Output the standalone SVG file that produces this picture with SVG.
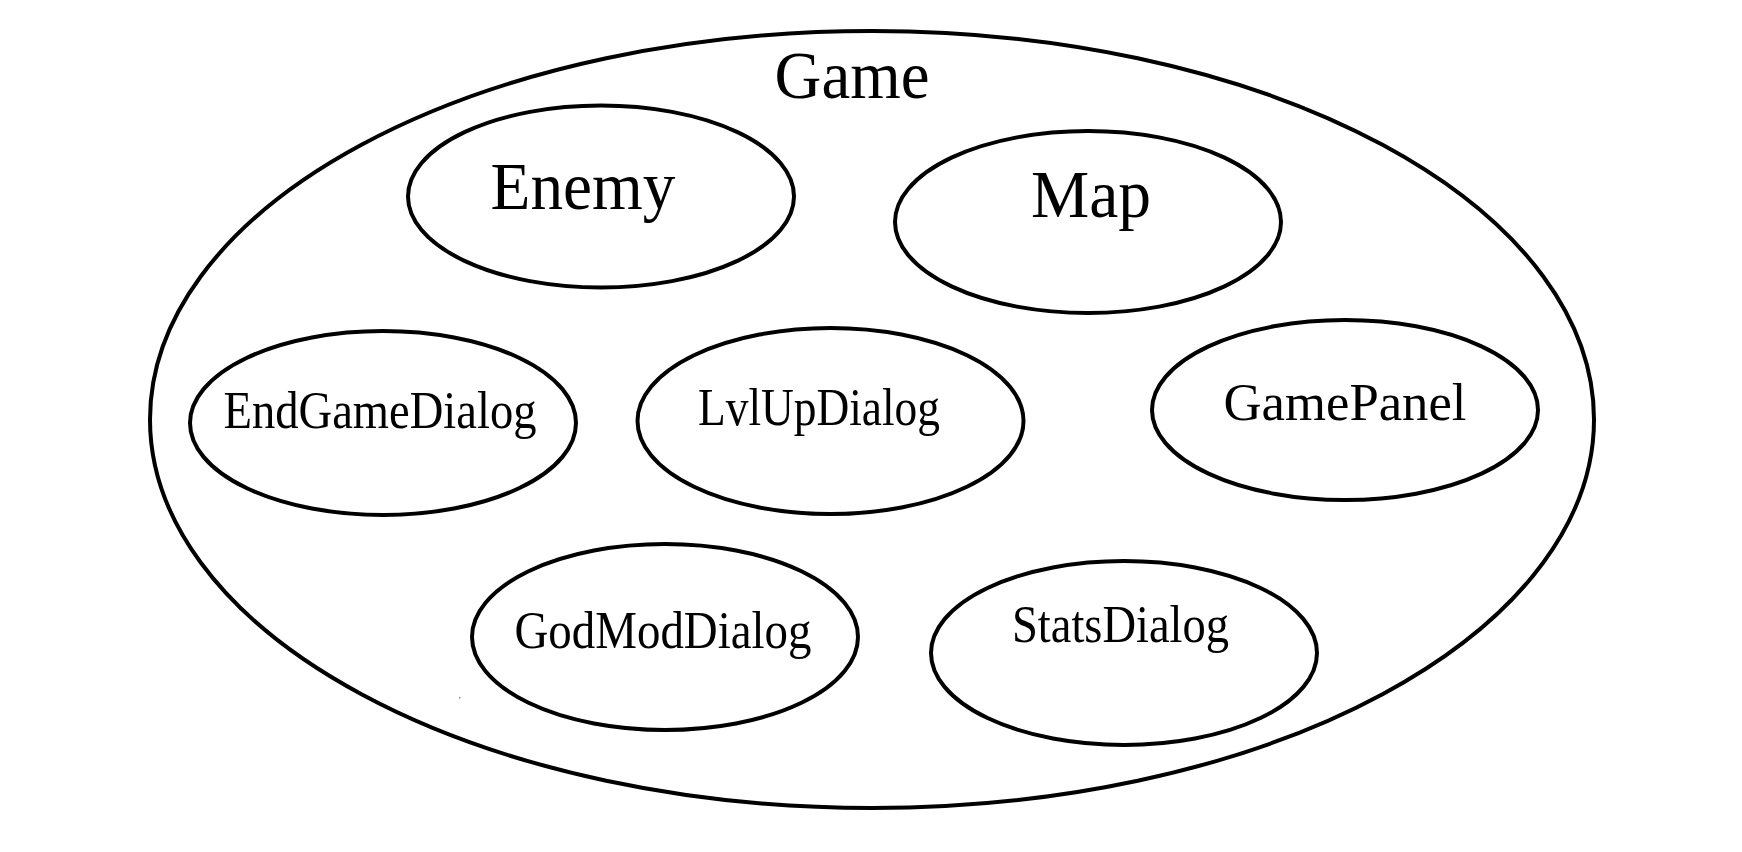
<svg xmlns="http://www.w3.org/2000/svg" width="1742" height="852" viewBox="0 0 1742 852">
<style>
.o{fill:none;stroke:#000;stroke-width:4}
.t{font-family:"Liberation Serif","Times New Roman",serif;fill:#000;text-anchor:middle}
.big{font-size:68px}
.sm{font-size:52px}
</style>
<rect width="1742" height="852" fill="#fff"/>
<g id="game">
<ellipse class="o" cx="872" cy="419.5" rx="722" ry="388.5"/>
<text class="t big" x="852" y="98" textLength="155" lengthAdjust="spacingAndGlyphs">Game</text>
</g>
<g id="enemy">
<ellipse class="o" cx="601" cy="196.5" rx="193" ry="91"/>
<text class="t big" x="583" y="209" textLength="185" lengthAdjust="spacingAndGlyphs">Enemy</text>
</g>
<g id="map">
<ellipse class="o" cx="1088" cy="222" rx="193" ry="91"/>
<text class="t big" x="1091" y="217" textLength="120" lengthAdjust="spacingAndGlyphs">Map</text>
</g>
<g id="endgamedialog">
<ellipse class="o" cx="383" cy="423" rx="193" ry="92"/>
<text class="t sm" x="380" y="428" textLength="313" lengthAdjust="spacingAndGlyphs">EndGameDialog</text>
</g>
<g id="lvlupdialog">
<ellipse class="o" cx="830.5" cy="421" rx="193" ry="93"/>
<text class="t sm" x="819" y="425" textLength="242" lengthAdjust="spacingAndGlyphs">LvlUpDialog</text>
</g>
<g id="gamepanel">
<ellipse class="o" cx="1345" cy="410" rx="193" ry="90"/>
<text class="t sm" x="1345" y="420" textLength="243" lengthAdjust="spacingAndGlyphs">GamePanel</text>
</g>
<g id="godmoddialog">
<ellipse class="o" cx="665" cy="637" rx="193" ry="93"/>
<text class="t sm" x="663" y="648" textLength="297" lengthAdjust="spacingAndGlyphs">GodModDialog</text>
</g>
<g id="statsdialog">
<ellipse class="o" cx="1124" cy="653" rx="193" ry="92"/>
<text class="t sm" x="1120.5" y="642" textLength="217" lengthAdjust="spacingAndGlyphs">StatsDialog</text>
</g>
<g id="connectors"></g>
<rect x="459" y="697" width="1.5" height="1.5" fill="#888"/>
</svg>
